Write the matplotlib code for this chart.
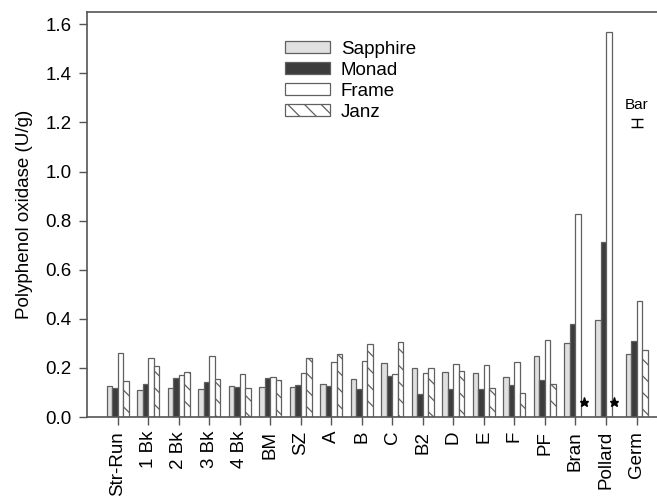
import matplotlib
matplotlib.use("Agg")
import matplotlib.pyplot as plt
import numpy as np

plt.rcParams['font.family'] = ['Liberation Sans', 'DejaVu Sans']
plt.rcParams['hatch.linewidth'] = 0.9
plt.rcParams['hatch.color'] = '#303030'

categories = ["Str-Run", "1 Bk", "2 Bk", "3 Bk", "4 Bk", "BM", "SZ", "A", "B", "C",
              "B2", "D", "E", "F", "PF", "Bran", "Pollard", "Germ"]
sapphire = [0.125, 0.112, 0.117, 0.114, 0.128, 0.124, 0.124, 0.136, 0.155, 0.220,
            0.198, 0.185, 0.178, 0.163, 0.247, 0.300, 0.397, 0.258]
monad = [0.120, 0.136, 0.158, 0.144, 0.121, 0.158, 0.129, 0.126, 0.116, 0.166,
         0.095, 0.114, 0.116, 0.132, 0.149, 0.377, 0.711, 0.308]
frame = [0.262, 0.240, 0.170, 0.247, 0.177, 0.164, 0.178, 0.223, 0.227, 0.174,
         0.179, 0.215, 0.211, 0.224, 0.312, 0.828, 1.570, 0.472]
janz = [0.145, 0.206, 0.182, 0.156, 0.120, 0.149, 0.241, 0.258, 0.297, 0.305,
        0.200, 0.187, 0.120, 0.099, 0.136, None, None, 0.272]
star_value = 0.06
bar_label = "Bar"
bar_center = 1.196
bar_halfwidth = 0.016

series = [("Sapphire", sapphire, "#e0e0e0", ""),
          ("Monad", monad, "#3c3c3c", ""),
          ("Frame", frame, "#ffffff", ""),
          ("Janz", janz, "#ffffff", "\\\\")]

fig = plt.figure(figsize=(6.57, 4.99), dpi=100)
ax = fig.add_axes([0.1324, 0.1643, 0.8676, 0.8117])

x = np.arange(len(categories))
w = 0.18
for i, (name, vals, col, hatch) in enumerate(series):
    off = (i - 1.5) * w
    xs = [xi + off for xi, v in zip(x, vals) if v is not None]
    ys = [v for v in vals if v is not None]
    ax.bar(xs, ys, width=w, color=col, edgecolor="#606060", linewidth=0.9,
           hatch=hatch, label=name)
    missing = [xi + off for xi, v in zip(x, vals) if v is None]
    if missing:
        ax.plot(missing, [star_value] * len(missing), marker="*", linestyle="none",
                color="black", markersize=6.5)

ax.errorbar([x[-1]], [bar_center], yerr=[bar_halfwidth], color="black",
            capsize=4, linewidth=1, capthick=1)
ax.text(x[-1], bar_center + 0.045, bar_label, ha="center", va="bottom", fontsize=11)

ax.set_xlim(-1.0, 17.67)
ax.set_ylim(0, 1.65)
ax.set_yticks(np.arange(0, 1.61, 0.2))
ax.set_yticklabels([f"{v:.1f}" for v in np.arange(0, 1.61, 0.2)])
ax.set_xticks(x)
ax.set_xticklabels(categories, rotation=90)
ax.tick_params(axis="both", direction="out", length=6, width=1, color="#555555",
               labelsize=13.5)
ax.tick_params(axis="y", pad=5)
ax.tick_params(axis="x", pad=4)
for s in ["left", "bottom", "top"]:
    ax.spines[s].set_color("#555555")
    ax.spines[s].set_linewidth(1.2)
ax.spines["right"].set_visible(False)
ax.set_ylabel("Polyphenol oxidase (U/g)", fontsize=13.5, labelpad=9)

leg = ax.legend(loc="upper left", bbox_to_anchor=(0.335, 0.948), frameon=False,
                fontsize=13.5, handlelength=2.35, handleheight=0.62,
                labelspacing=0.22, handletextpad=0.6, borderaxespad=0)

fig.savefig("out.png", dpi=100)
